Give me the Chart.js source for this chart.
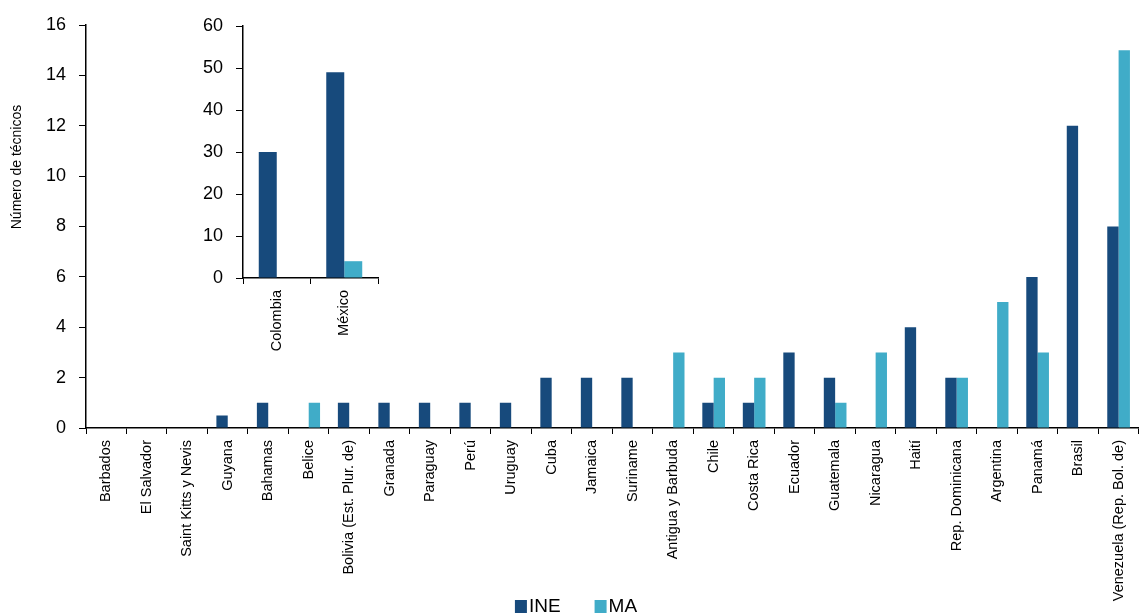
<!DOCTYPE html>
<html>
<head>
<meta charset="utf-8">
<script src="https://cdn.jsdelivr.net/npm/chart.js@4/dist/chart.umd.min.js"></script>
<style>
  html, body { margin: 0; padding: 0; background: #fff; }
  #wrap { position: relative; width: 1142px; height: 616px; }
  #main { position: absolute; left: 0; top: 0; }
  #inset { position: absolute; left: 180px; top: 0; }
</style>
</head>
<body>
<div id="wrap">
  <canvas id="main" width="1142" height="616"></canvas>
  <canvas id="inset" width="200" height="380"></canvas>
</div>
<script>
var categories = ['Barbados', 'El Salvador', 'Saint Kitts y Nevis', 'Guyana', 'Bahamas', 'Belice',
  'Bolivia (Est. Plur. de)', 'Granada', 'Paraguay', 'Perú', 'Uruguay', 'Cuba', 'Jamaica', 'Suriname',
  'Antigua y Barbuda', 'Chile', 'Costa Rica', 'Ecuador', 'Guatemala', 'Nicaragua', 'Haití',
  'Rep. Dominicana', 'Argentina', 'Panamá', 'Brasil', 'Venezuela (Rep. Bol. de)'];
var ineValues = [0, 0, 0, 0.5, 1, 0, 1, 1, 1, 1, 1, 2, 2, 2, 0, 1, 1, 3, 2, 0, 4, 2, 0, 6, 12, 8];
var maValues  = [0, 0, 0, 0, 0, 1, 0, 0, 0, 0, 0, 0, 0, 0, 3, 2, 2, 0, 1, 3, 0, 2, 5, 3, 0, 15];
var yTicks = [0, 2, 4, 6, 8, 10, 12, 14, 16];
var yTitle = 'Número de técnicos';

var insetCategories = ['Colombia', 'México'];
var insetIne = [30, 49];
var insetMa = [0, 4];
var insetTicks = [0, 10, 20, 30, 40, 50, 60];

var INE_COLOR = '#174a7c';
var MA_COLOR = '#40acc8';
var FONT = '"Liberation Sans", Arial, sans-serif';

Chart.defaults.font.family = FONT;
Chart.defaults.color = '#000';

// y title and legend drawn by hand so they can sit where the original has them
var overlay = {
  id: 'overlay',
  afterDraw: function (chart) {
    var ctx = chart.ctx;
    ctx.save();
    ctx.fillStyle = '#000';
    ctx.font = '14px ' + FONT;
    ctx.textAlign = 'center';
    ctx.textBaseline = 'middle';
    ctx.translate(17, 167);
    ctx.rotate(-Math.PI / 2);
    ctx.fillText(yTitle, 0, 0);
    ctx.restore();

    ctx.save();
    ctx.font = '19px ' + FONT;
    ctx.textBaseline = 'middle';
    var sets = chart.data.datasets;
    var box = 12, gap = 2, itemGap = 34;
    var widths = sets.map(function (d) { return box + gap + ctx.measureText(d.label).width; });
    var total = widths.reduce(function (a, b) { return a + b; }, 0) + itemGap * (sets.length - 1);
    var x = 576 - total / 2, cy = 607;
    sets.forEach(function (d, i) {
      ctx.fillStyle = d.backgroundColor;
      ctx.fillRect(x, cy - 7, box, 13);
      ctx.fillStyle = '#000';
      ctx.fillText(d.label, x + box + gap, cy);
      x += widths[i] + itemGap;
    });
    ctx.restore();
  }
};

// main chart
new Chart(document.getElementById('main').getContext('2d'), {
  type: 'bar',
  data: {
    labels: categories,
    datasets: [
      { label: 'INE', data: ineValues, backgroundColor: INE_COLOR },
      { label: 'MA', data: maValues, backgroundColor: MA_COLOR }
    ]
  },
  options: {
    responsive: false,
    animation: false,
    categoryPercentage: 0.56,
    barPercentage: 1,
    layout: { padding: { top: 25, left: 0, right: 0, bottom: 0 } },
    plugins: { tooltip: { enabled: false }, legend: { display: false } },
    scales: {
      x: {
        afterFit: function (s) { s.height = 188; },
        grid: { offset: true, drawOnChartArea: false, tickLength: 6, color: '#000' },
        border: { color: '#000', width: 1.5 },
        ticks: { autoSkip: false, minRotation: 90, maxRotation: 90, padding: 6, font: { size: 14.5 }, color: '#000' }
      },
      y: {
        min: 0,
        max: 16,
        afterFit: function (s) { s.width = 86; },
        afterBuildTicks: function (s) { s.ticks = yTicks.map(function (v) { return { value: v }; }); },
        grid: { drawOnChartArea: false, tickLength: 7, color: '#000' },
        border: { color: '#000', width: 1.5 },
        ticks: { padding: 13, font: { size: 18 }, color: '#000' }
      }
    }
  },
  plugins: [overlay]
});

// inset chart
new Chart(document.getElementById('inset').getContext('2d'), {
  type: 'bar',
  data: {
    labels: insetCategories,
    datasets: [
      { label: 'INE', data: insetIne, backgroundColor: INE_COLOR },
      { label: 'MA', data: insetMa, backgroundColor: MA_COLOR }
    ]
  },
  options: {
    responsive: false,
    animation: false,
    categoryPercentage: 0.533,
    barPercentage: 1,
    layout: { padding: { top: 26, left: 0, right: 2, bottom: 0 } },
    plugins: { legend: { display: false }, tooltip: { enabled: false } },
    scales: {
      x: {
        afterFit: function (s) { s.height = 102; },
        grid: { offset: true, drawOnChartArea: false, tickLength: 6, color: '#000' },
        border: { color: '#000', width: 1.5 },
        ticks: { autoSkip: false, minRotation: 90, maxRotation: 90, padding: 6, font: { size: 14.5 }, color: '#000' }
      },
      y: {
        min: 0,
        max: 60,
        afterFit: function (s) { s.width = 63; },
        afterBuildTicks: function (s) { s.ticks = insetTicks.map(function (v) { return { value: v }; }); },
        grid: { drawOnChartArea: false, tickLength: 7, color: '#000' },
        border: { color: '#000', width: 1.5 },
        ticks: { padding: 13, font: { size: 18 }, color: '#000' }
      }
    }
  }
});
</script>
</body>
</html>
